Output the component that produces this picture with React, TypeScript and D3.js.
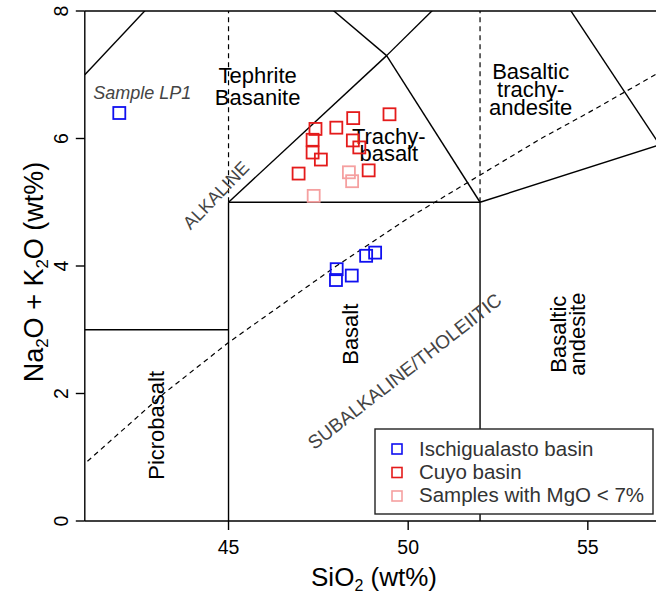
import React from "react";
import * as d3 from "d3";

// SiO2 / Na2O+K2O
const ischiSi = [41.96, 48.01, 47.99, 48.43, 48.83, 49.08];
const ischiAlk = [6.4, 3.95, 3.78, 3.85, 4.16, 4.21];
const cuyoSi = [47.42, 48.0, 48.47, 49.48, 47.34, 47.34, 47.57, 46.95, 48.46, 48.64, 48.9];
const cuyoAlk = [6.15, 6.17, 6.32, 6.38, 5.98, 5.78, 5.67, 5.45, 5.97, 5.86, 5.5];
const lowMgSi = [48.35, 48.44, 47.37];
const lowMgAlk = [5.47, 5.33, 5.1];

const legendLabels = ["Ischigualasto basin", "Cuyo basin", "Samples with MgO < 7%"];
const seriesColors = ["#1010f0", "#e41b1b", "#f5a0a0"];

const xTicks = [45, 50, 55];
const yTicks = [0, 2, 4, 6, 8];

// TAS field boundaries (Le Bas et al. 1986)
const fieldLines: [number, number][][] = [
  [[41, 3], [45, 3]],
  [[45, 0], [45, 5]],
  [[45, 5], [52, 5]],
  [[52, 0], [52, 5]],
  [[52, 5], [57, 5.9]],
  [[45, 5], [49.4, 7.3]],
  [[49.4, 7.3], [52, 5]],
  [[49.4, 7.3], [53, 9.3]],
  [[53, 9.3], [57, 5.9]],
  [[41, 7], [45, 9.4]],
  [[45, 9.4], [49.4, 7.3]],
];
const dashedFieldLines: [number, number][][] = [
  [[45, 5], [45, 8]],
  [[52, 5], [52, 8]],
];

// alkaline / subalkaline divide (Irvine & Baragar)
const divideSi = [39.2, 40, 43.2, 45, 48, 50, 53.7, 55, 60];
const divideAlk = [0, 0.4, 2, 2.8, 4, 4.75, 6, 6.4, 8];

const W = 656, H = 596;
const font = "'Liberation Sans', Arial, sans-serif";

const App = () => {
  const x = d3.scaleLinear().domain([41, 57]).range([84.8, 659.7]);
  const y = d3.scaleLinear().domain([0, 8]).range([521, 11]);
  const line = d3.line<[number, number]>().x(d => x(d[0])).y(d => y(d[1]));

  const divide = divideSi.map((s, i) => [s, divideAlk[i]] as [number, number]);
  const series = [
    ischiSi.map((s, i) => [s, ischiAlk[i]]),
    cuyoSi.map((s, i) => [s, cuyoAlk[i]]),
    lowMgSi.map((s, i) => [s, lowMgAlk[i]]),
  ];
  const sq = 12;

  const label = (t: string, cx: number, base: number, size = 22) => (
    <text x={cx} y={base} textAnchor="middle" fontSize={size} fill="#000">{t}</text>
  );

  return (
    <div style={{ position: "absolute", left: 0, top: 0 }}>
      <svg width={W} height={H} style={{ display: "block", fontFamily: font }}>
        <defs>
          <clipPath id="plot">
            <rect x={x(41)} y={y(8)} width={x(57) - x(41)} height={y(0) - y(8)} />
          </clipPath>
        </defs>
        <rect width={W} height={H} fill="#fff" />

        <g clipPath="url(#plot)" fill="none" stroke="#000" strokeWidth={1.4}>
          {fieldLines.map((l, i) => <path key={i} d={line(l) || ""} />)}
          {dashedFieldLines.map((l, i) => <path key={"d" + i} d={line(l) || ""} strokeDasharray="5,4" strokeWidth={1.2} />)}
          <path d={line(divide) || ""} strokeDasharray="5,4" strokeWidth={1.2} />
        </g>

        {/* field names */}
        {label("Tephrite", x(45.81), y(6.87))}
        {label("Basanite", x(45.81), y(6.53))}
        {label("Trachy-", x(49.46), y(5.92))}
        {label("basalt", x(49.46), y(5.65))}
        {label("Basaltic", x(53.41), y(6.94))}
        {label("trachy-", x(53.41), y(6.65))}
        {label("andesite", x(53.41), y(6.37))}
        <text transform={`translate(${x(48.61)},${y(2.93)}) rotate(-90)`} textAnchor="middle" fontSize={22}>Basalt</text>
        <text transform={`translate(${x(43.2)},${y(1.5)}) rotate(-90)`} textAnchor="middle" fontSize={22}>Picrobasalt</text>
        <text transform={`translate(${x(54.4)},${y(2.93)}) rotate(-90)`} textAnchor="middle" fontSize={22}>Basaltic</text>
        <text transform={`translate(${x(54.92)},${y(2.93)}) rotate(-90)`} textAnchor="middle" fontSize={22}>andesite</text>

        <text transform={`translate(${x(44.65)},${y(5.11)}) rotate(-46)`} textAnchor="middle" dy="0.35em" fontSize={18} fill="#444">ALKALINE</text>
        <text transform={`translate(${x(49.9)},${y(2.35)}) rotate(-38)`} textAnchor="middle" dy="0.35em" fontSize={19} fill="#444">SUBALKALINE/THOLEIITIC</text>
        <text x={x(42.6)} y={y(6.62)} textAnchor="middle" fontSize={18} fontStyle="italic" fill="#444">Sample LP1</text>

        {/* samples */}
        {series.map((pts, si) => (
          <g key={si} fill="none" stroke={seriesColors[si]} strokeWidth={1.8}>
            {pts.map((p, i) => (
              <rect key={i} x={x(p[0]) - sq / 2} y={y(p[1]) - sq / 2} width={sq} height={sq} />
            ))}
          </g>
        ))}

        {/* legend */}
        <g>
          <rect x={375} y={429} width={278} height={85} fill="#fff" stroke="#222" strokeWidth={1.4} />
          {legendLabels.map((t, i) => (
            <g key={t}>
              <rect x={392} y={444 + i * 23.5} width={10} height={10} fill="none" stroke={seriesColors[i]} strokeWidth={1.6} />
              <text x={419} y={456 + i * 23} fontSize={20.5} fill="#333">{t}</text>
            </g>
          ))}
        </g>

        {/* axes */}
        <g stroke="#000" strokeWidth={1.4}>
          <line x1={x(41)} x2={x(57)} y1={y(8)} y2={y(8)} />
          <line x1={x(41)} x2={x(41)} y1={y(0)} y2={y(8)} />
          <line x1={x(41)} x2={x(57)} y1={y(0)} y2={y(0)} />
          {xTicks.map(t => <line key={t} x1={x(t)} x2={x(t)} y1={y(0)} y2={y(0) + 9} />)}
          {yTicks.map(t => <line key={t} x1={x(41) - 9} x2={x(41)} y1={y(t)} y2={y(t)} />)}
        </g>
        {xTicks.map(t => (
          <text key={t} x={x(t)} y={y(0) + 33} textAnchor="middle" fontSize={19.5}>{t}</text>
        ))}
        {yTicks.map(t => (
          <text key={t} transform={`translate(${x(41) - 17},${y(t)}) rotate(-90)`} textAnchor="middle" fontSize={19.5}>{t}</text>
        ))}

        <text x={374} y={586} textAnchor="middle" fontSize={26}>
          SiO<tspan dy={5} fontSize={16}>2</tspan><tspan dy={-5}> (wt%)</tspan>
        </text>
        <text transform={`translate(43,272) rotate(-90)`} textAnchor="middle" fontSize={27}>
          Na<tspan dy={5} fontSize={17}>2</tspan><tspan dy={-5}>O + K</tspan><tspan dy={5} fontSize={17}>2</tspan><tspan dy={-5}>O (wt%)</tspan>
        </text>
      </svg>
    </div>
  );
};

export default App;
